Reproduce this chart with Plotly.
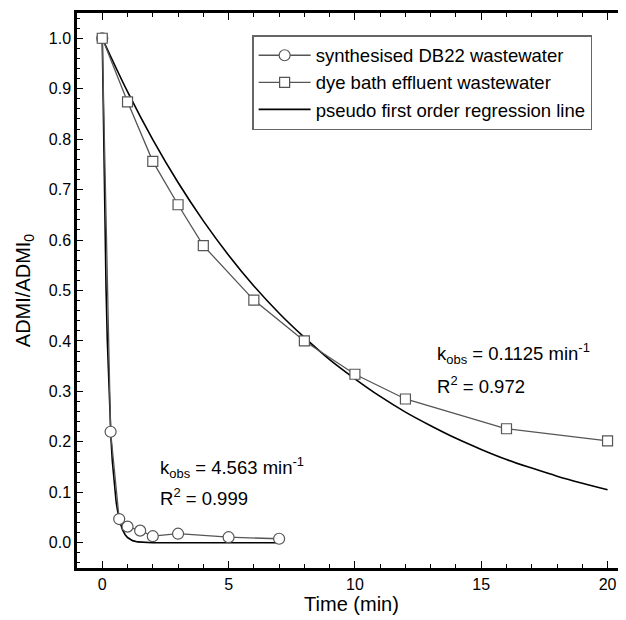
import plotly.graph_objects as go

# Data
t_db22 = [0, 0.33, 0.67, 1.0, 1.5, 2.0, 3.0, 5.0, 7.0]
y_db22 = [1.0, 0.22, 0.047, 0.032, 0.024, 0.013, 0.018, 0.011, 0.008]

t_dye = [0, 1, 2, 3, 4, 6, 8, 10, 12, 16, 20]
y_dye = [1.0, 0.874, 0.756, 0.670, 0.589, 0.481, 0.400, 0.334, 0.285, 0.226, 0.202]

# pseudo first order regression lines
t_fit_db22 = [0, 0.05, 0.1, 0.15, 0.2, 0.25, 0.3, 0.35, 0.4, 0.45, 0.5, 0.55, 0.6,
              0.7, 0.8, 0.9, 1.0, 1.2, 1.4, 1.6, 1.8, 2.0, 2.5, 3.0, 5.0, 7.0]
y_fit_db22 = [1.0, 0.796, 0.634, 0.504, 0.401, 0.320, 0.254, 0.2025, 0.161, 0.128,
              0.102, 0.081, 0.065, 0.041, 0.026, 0.0165, 0.0104, 0.0042, 0.0017,
              0.0007, 0.0003, 0.0001, 0.0, 0.0, 0.0, 0.0]

t_fit_dye = list(range(0, 21))
y_fit_dye = [1.0, 0.894, 0.799, 0.714, 0.638, 0.570, 0.509, 0.455, 0.407, 0.363,
             0.325, 0.290, 0.259, 0.232, 0.207, 0.185, 0.165, 0.148, 0.132, 0.118, 0.105]

legend_names = ["synthesised DB22 wastewater", "dye bath effluent wastewater",
                "pseudo first order regression line"]

FONT = "Liberation Sans, Arial, Helvetica, sans-serif"
GRAY = "#555555"

fig = go.Figure()

fig.add_trace(go.Scatter(x=t_fit_db22, y=y_fit_db22, mode="lines",
                         line=dict(color="black", width=1.6),
                         name=legend_names[2], legendgroup="fit", legendrank=3))
fig.add_trace(go.Scatter(x=t_fit_dye, y=y_fit_dye, mode="lines",
                         line=dict(color="black", width=1.6, shape="spline"),
                         name=legend_names[2], legendgroup="fit", showlegend=False))

fig.add_trace(go.Scatter(x=t_db22, y=y_db22, mode="lines+markers",
                         line=dict(color=GRAY, width=1.3),
                         marker=dict(symbol="circle", size=11, color="white",
                                     line=dict(color=GRAY, width=1.2)),
                         name=legend_names[0], legendrank=1))
fig.add_trace(go.Scatter(x=t_dye, y=y_dye, mode="lines+markers",
                         line=dict(color=GRAY, width=1.3),
                         marker=dict(symbol="square", size=10, color="white",
                                     line=dict(color=GRAY, width=1.2)),
                         name=legend_names[1], legendrank=2))

ann_font = dict(family=FONT, size=18.5, color="black")
fig.add_annotation(x=2.2, y=0.149, xref="x", yref="y", xanchor="left", yanchor="middle",
                   text="k<sub>obs</sub> = 4.563 min<sup>-1</sup>", showarrow=False, font=ann_font)
fig.add_annotation(x=2.2, y=0.0915, xref="x", yref="y", xanchor="left", yanchor="middle",
                   text="R<sup>2</sup> = 0.999", showarrow=False, font=ann_font)
fig.add_annotation(x=13.16, y=0.376, xref="x", yref="y", xanchor="left", yanchor="middle",
                   text="k<sub>obs</sub> = 0.1125 min<sup>-1</sup>", showarrow=False, font=ann_font)
fig.add_annotation(x=13.16, y=0.313, xref="x", yref="y", xanchor="left", yanchor="middle",
                   text="R<sup>2</sup> = 0.972", showarrow=False, font=ann_font)

# The page body has an 8px margin, so the figure is sized to fill the rest of the window
fig.update_layout(
    width=618, height=612,
    margin=dict(l=69, r=0, t=5, b=52),
    paper_bgcolor="white", plot_bgcolor="white",
    font=dict(family=FONT, size=16, color="black"),
    showlegend=True,
    legend=dict(x=0.319, y=0.960, xanchor="left", yanchor="top",
                bgcolor="white", bordercolor="#666666", borderwidth=1.5,
                font=dict(family=FONT, size=18.5), itemwidth=52,
                tracegroupgap=0),
)

fig.update_xaxes(range=[-1, 20.73], showgrid=False, zeroline=False,
                 showline=True, linecolor="black", linewidth=2.5, mirror="ticks",
                 ticks="inside", ticklen=7, tickwidth=1, tickcolor="black",
                 tick0=0, dtick=5,
                 minor=dict(ticks="inside", ticklen=4, dtick=1, tick0=0, tickcolor="black"),
                 title=dict(text="Time (min)", font=dict(size=20), standoff=4),
                 tickfont=dict(size=16))
fig.update_yaxes(range=[-0.05, 1.05], showgrid=False, zeroline=False,
                 showline=True, linecolor="black", linewidth=2.5, mirror=False,
                 ticks="inside", ticklen=6, tickwidth=1, tickcolor="black",
                 tick0=0, dtick=0.1, tickformat=".1f",
                 minor=dict(ticks="inside", ticklen=3.5, dtick=0.02, tick0=0, tickcolor="black"),
                 title=dict(text="ADMI/ADMI<sub>0</sub>", font=dict(size=20), standoff=13),
                 tickfont=dict(size=16))

fig.write_html("out.html")
